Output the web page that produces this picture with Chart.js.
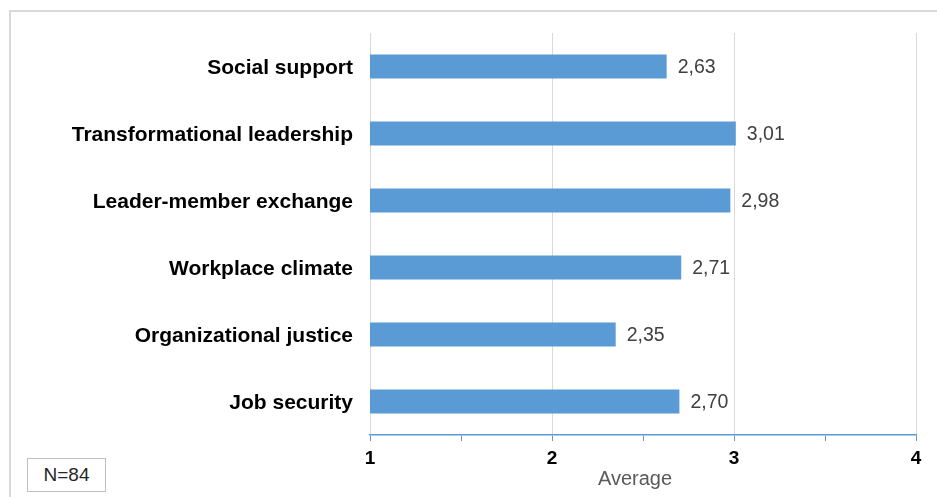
<!DOCTYPE html>
<html>
<head>
<meta charset="utf-8">
<script src="https://cdn.jsdelivr.net/npm/chart.js@4.4.1/dist/chart.umd.min.js"></script>
<style>
  html, body { margin: 0; padding: 0; background: #fff; overflow: hidden; }
  #wrap { position: relative; width: 937px; height: 497px; }
  #frame { position: absolute; left: 9px; top: 10px; width: 1000px; height: 600px; border: 2px solid #d9d9d9; box-sizing: border-box; pointer-events: none; }
  #note { position: absolute; left: 27px; top: 458px; width: 79px; height: 34px; border: 1.5px solid #bfbfbf; box-sizing: border-box;
          font-family: "Liberation Sans", Arial, sans-serif; font-size: 19px; color: #262626; display: flex; align-items: center; justify-content: center; background: #fff; }
  canvas { position: absolute; left: 0; top: 0; }
</style>
</head>
<body>
<div id="wrap">
  <canvas id="c" width="937" height="497"></canvas>
  <div id="frame"></div>
  <div id="note">N=84</div>
</div>
<script>
const categories = ["Social support", "Transformational leadership", "Leader-member exchange", "Workplace climate", "Organizational justice", "Job security"];
const averages = [2.63, 3.01, 2.98, 2.71, 2.35, 2.70];
const axisTitle = "Average";
const xMin = 1, xMax = 4, xStep = 0.5;

const FONT = '"Liberation Sans", Arial, sans-serif';

const labelPlugin = {
  id: 'valueLabels',
  afterDatasetsDraw(chart) {
    const ctx = chart.ctx;
    const meta = chart.getDatasetMeta(0);
    ctx.save();
    ctx.font = '19.5px ' + FONT;
    ctx.fillStyle = '#404040';
    ctx.textAlign = 'left';
    ctx.textBaseline = 'middle';
    meta.data.forEach((bar, i) => {
      const txt = averages[i].toFixed(2).replace('.', ',');
      ctx.fillText(txt, bar.x + 11, bar.y + 1);
    });
    ctx.restore();
  },
  afterDraw(chart) {
    const ctx = chart.ctx;
    const xs = chart.scales.x;
    ctx.save();
    ctx.font = '20px ' + FONT;
    ctx.fillStyle = '#595959';
    ctx.textAlign = 'center';
    ctx.textBaseline = 'alphabetic';
    ctx.fillText(axisTitle, (xs.left + xs.right) / 2 - 8, chart.chartArea.bottom + 50);
    ctx.restore();
  }
};

new Chart(document.getElementById('c'), {
  type: 'bar',
  data: {
    labels: categories,
    datasets: [{
      data: averages,
      backgroundColor: '#5b9bd5',
      borderWidth: 0,
      barPercentage: 0.36,
      categoryPercentage: 1
    }]
  },
  plugins: [labelPlugin],
  options: {
    indexAxis: 'y',
    responsive: false,
    animation: false,
    devicePixelRatio: 1,
    layout: { padding: { top: 33, right: 21, left: 0, bottom: 0 } },
    plugins: { legend: { display: false }, tooltip: { enabled: false } },
    scales: {
      x: {
        min: xMin, max: xMax,
        afterFit(scale) { scale.height = 62; },
        ticks: {
          stepSize: xStep,
          autoSkip: false,
          maxRotation: 0,
          padding: 6,
          color: '#000',
          font: { family: FONT, size: 19, weight: 'bold' },
          callback: (v) => (v % 1 === 0 ? String(v) : '')
        },
        grid: {
          color: (ctx) => (ctx.tick && ctx.tick.value % 1 === 0 ? '#d9d9d9' : 'rgba(0,0,0,0)'),
          tickColor: '#5b9bd5',
          tickLength: 6,
          lineWidth: 1
        },
        border: { display: true, color: '#5b9bd5', width: 1.5 }
      },
      y: {
        afterFit(scale) { scale.width = 370; },
        ticks: {
          padding: 17,
          labelOffset: 2,
          color: '#000',
          font: { family: FONT, size: 21, weight: 'bold' }
        },
        grid: { display: false, drawTicks: false },
        border: { display: false }
      }
    }
  }
});
</script>
</body>
</html>
